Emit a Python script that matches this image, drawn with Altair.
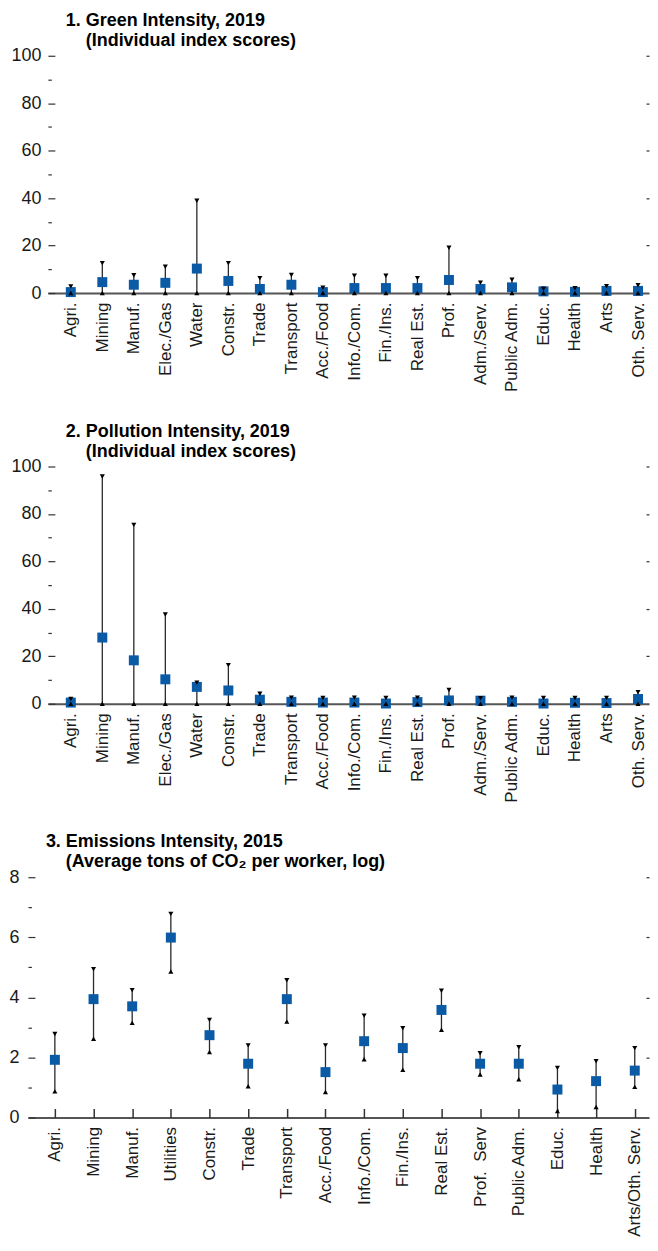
import altair as alt
import pandas as pd

# ---------------- data ----------------
cats_a = ["Agri.", "Mining", "Manuf.", "Elec./Gas", "Water", "Constr.", "Trade",
          "Transport", "Acc./Food", "Info./Com.", "Fin./Ins.", "Real Est.", "Prof.",
          "Adm./Serv.", "Public Adm.", "Educ.", "Health", "Arts", "Oth. Serv."]

green_mid = [0.4, 4.6, 3.5, 4.3, 10.3, 5.1, 1.7, 3.5, 0.4, 2.1, 2.1, 2.1, 5.5, 1.7, 2.4, 0.7, 0.5, 0.9, 0.9]
green_lo = [0, 0, 0, 0, 0, 0, 0, 0, 0, 0, 0, 0, 0, 0, 0, 0, 0, 0, 0]
green_hi = [2.8, 12.6, 7.5, 11.1, 38.9, 12.6, 6.3, 7.6, 2.2, 7.3, 7.3, 6.3, 19.1, 4.4, 5.6, 1.8, 2.0, 2.9, 3.3]

poll_mid = [0.5, 27.9, 18.3, 10.3, 7.1, 5.6, 1.7, 0.8, 0.5, 0.5, 0.1, 0.7, 1.4, 1.3, 0.8, 0.1, 0.4, 0.3, 2.0]
poll_lo = [0, 0, 0, 0, 0, 0, 0, 0, 0, 0, 0, 0, 0, 0, 0, 0, 0, 0, 0]
poll_hi = [2.0, 95.8, 75.4, 37.6, 8.9, 16.3, 4.2, 2.6, 2.4, 2.6, 2.4, 2.6, 5.8, 2.3, 2.6, 2.4, 2.4, 2.4, 4.9]

cats_b = ["Agri.", "Mining", "Manuf.", "Utilities", "Constr.", "Trade", "Transport",
          "Acc./Food", "Info./Com.", "Fin./Ins.", "Real Est.", "Prof.\u00a0 Serv",
          "Public Adm.", "Educ.", "Health", "Arts/Oth. Serv."]

emis_mid = [1.92, 3.94, 3.70, 5.99, 2.74, 1.79, 3.94, 1.51, 2.54, 2.31, 3.58, 1.79, 1.79, 0.93, 1.21, 1.56]
emis_lo = [0.87, 2.62, 3.15, 4.86, 2.18, 1.04, 3.19, 0.85, 1.94, 1.59, 2.92, 1.43, 1.27, 0.21, 0.35, 1.02]
emis_hi = [2.78, 4.94, 4.24, 6.78, 3.25, 2.40, 4.57, 2.40, 3.39, 2.97, 4.22, 2.14, 2.34, 1.65, 1.87, 2.31]

major_a = [0, 20, 40, 60, 80, 100]
minor_a = [10, 30, 50, 70, 90]
major_b = [0, 2, 4, 6, 8]
minor_b = [1, 3, 5, 7]

IND = "\u200b\u00a0\u00a0\u00a0\u00a0"
title1 = "1. Green Intensity, 2019"
sub1 = IND + "(Individual index scores)"
title2 = "2. Pollution Intensity, 2019"
sub2 = IND + "(Individual index scores)"
title3 = "3. Emissions Intensity, 2015"
sub3 = IND + "(Average tons of CO\u2082 per worker, log)"

FONT = "Liberation Sans, Arial, sans-serif"
BLUE = "#0a5aa6"
TXT = "#1a1a1a"
TICK = "#333333"
W = 623


def make_panel(cats, mid, lo, hi, ymax, major, minor, title, subtitle,
               shift, ylabpad, xrange, xpad, xalign, inner_xticks, height):
    df = pd.DataFrame({"cat": cats, "mid": mid, "lo": lo, "hi": hi})
    xs = alt.Scale(type="point", domain=cats, range=xrange, padding=xpad, align=xalign)
    ys = alt.Scale(domain=[0, ymax], nice=False, zero=True)
    base = alt.Chart(df)

    x_main = alt.X("cat:N", sort=cats, scale=xs, title=None,
                   axis=alt.Axis(orient="bottom", labelAngle=-90, labelFont=FONT,
                                 labelFontSize=17, labelColor=TXT, labelPadding=9,
                                 ticks=False, domainColor="#555555", domainWidth=2,
                                 grid=False))
    x_none = alt.X("cat:N", sort=cats, scale=xs, axis=None)
    if inner_xticks:
        x_up = alt.X("cat:N", sort=cats, scale=xs, title=None,
                     axis=alt.Axis(orient="bottom", labels=False, domain=False, grid=False,
                                   ticks=True, tickSize=9, offset=-9, tickColor=TICK,
                                   tickWidth=1.5))
    else:
        x_up = x_none

    rule = base.mark_rule(color="#2a2a2a", strokeWidth=1.3).encode(
        x=x_main,
        y=alt.Y("lo:Q", scale=ys, title=None,
                axis=alt.Axis(orient="left", values=major, offset=-(shift + 7), tickSize=7,
                              tickWidth=1.2, tickColor=TICK, domain=False, grid=False,
                              labelFont=FONT, labelFontSize=18, labelColor=TXT,
                              labelPadding=ylabpad)),
        y2="hi:Q",
    )
    sq = base.mark_point(shape="square", filled=True, opacity=1, size=100, color=BLUE).encode(
        x=x_none,
        y=alt.Y("mid:Q", scale=ys, title=None,
                axis=alt.Axis(orient="left", values=minor, offset=-(shift + 3.5), tickSize=3.5,
                              tickWidth=1.2, tickColor=TICK, labels=False,
                              domain=False, grid=False)),
    )
    up = base.mark_point(shape="triangle-up", filled=True, opacity=1, size=26, color="black").encode(
        x=x_up,
        y=alt.Y("lo:Q", scale=ys, title=None,
                axis=alt.Axis(orient="right", values=major[1:], offset=-3, tickSize=3,
                              tickWidth=1.2, tickColor=TICK, labels=False,
                              domain=False, grid=False)),
    )
    dn = base.mark_point(shape="triangle-down", filled=True, opacity=1, size=26, color="black").encode(
        x=x_none,
        y=alt.Y("hi:Q", scale=ys, axis=None),
    )
    return alt.layer(rule, sq, up, dn).resolve_axis(x="independent", y="independent").properties(
        width=W, height=height,
        title=alt.TitleParams(text=title, subtitle=subtitle, anchor="start", frame="group",
                              font=FONT, fontSize=18, fontWeight="bold", color="black",
                              subtitleFont=FONT, subtitleFontSize=18,
                              subtitleFontWeight="bold", subtitleColor="black",
                              subtitlePadding=2, dx=shift + 18, offset=-3),
    )


p1 = make_panel(cats_a, green_mid, green_lo, green_hi, 100, major_a, minor_a, title1, sub1,
                20, 7, [20, W], 0.538, 0.676, False, 238)
p2 = make_panel(cats_a, poll_mid, poll_lo, poll_hi, 100, major_a, minor_a, title2, sub2,
                20, 7, [20, W], 0.538, 0.676, False, 238)
p3 = make_panel(cats_b, emis_mid, emis_lo, emis_hi, 8, major_b, minor_b, title3, sub3,
                0, 9, [0, W], 0.5325, 0.654, True, 241)

chart = alt.vconcat(p1, p2, p3, spacing=30).properties(
    padding={"left": 0, "right": 0, "top": 2, "bottom": 0}
).configure_view(stroke=None)

chart.save("out.html", embed_options={"renderer": "svg", "actions": False})
